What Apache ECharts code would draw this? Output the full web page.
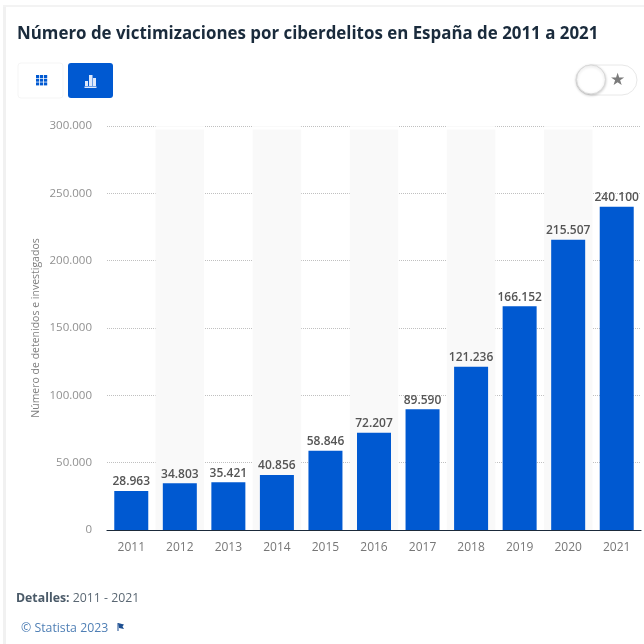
<!DOCTYPE html>
<html><head><meta charset="utf-8">
<style>html,body{margin:0;padding:0;background:#fff}#c{width:644px;height:644px}</style>
<script src="https://cdn.jsdelivr.net/npm/echarts@6/dist/echarts.min.js"></script>
</head><body><div id="c"></div>
<script>
const categories=['2011','2012','2013','2014','2015','2016','2017','2018','2019','2020','2021'];
const values=[28963,34803,35421,40856,58846,72207,89590,121236,166152,215507,240100];
const yTicks=[0,50000,100000,150000,200000,250000,300000];
const titleText='Número de victimizaciones por ciberdelitos en España de 2011 a 2021';
const yName='Número de detenidos e investigados';
const fmt=v=>String(v).replace(/\B(?=(\d{3})+$)/g,'.');
const F='"Open Sans"';
const chart=echarts.init(document.getElementById('c'),null,{renderer:'canvas'});
const blue='#0059d1';
const rects=(list,fill)=>list.map(r=>({type:'rect',shape:{x:r[0],y:r[1],width:r[2],height:r[3]},style:{fill},silent:true}));
const gridCells=[];for(let i=0;i<3;i++)for(let j=0;j<3;j++)gridCells.push([36+i*4,75+j*3.7,3.2,3]);
chart.setOption({
 animation:false,
 backgroundColor:'#fff',
 title:{text:titleText,left:17,top:26,padding:0,textStyle:{fontFamily:F,fontSize:16.9,fontWeight:700,color:'#1a2b3c'}},
 grid:{left:107,right:3,top:126,bottom:114,containLabel:false},
 xAxis:{type:'category',data:categories,boundaryGap:true,
  axisLine:{lineStyle:{color:'#1b2a3a',width:1.2}},axisTick:{show:false},
  axisLabel:{fontFamily:F,fontSize:12,color:'#777',margin:12,letterSpacing:0.2},
  splitArea:{show:true,areaStyle:{color:['rgba(255,255,255,0)','#f9f9f9']}},splitLine:{show:false}},
 yAxis:{type:'value',min:0,max:yTicks[yTicks.length-1],interval:50000,
  name:yName,nameLocation:'middle',nameGap:65,nameRotate:90,nameMoveOverlap:false,
  nameTextStyle:{fontFamily:F,fontSize:10.5,color:'#808080'},
  axisLine:{show:false},axisTick:{show:false},
  axisLabel:{fontFamily:F,fontSize:11.5,color:'#909090',margin:15,formatter:v=>fmt(v)},
  splitLine:{lineStyle:{type:'dotted',color:'#c0c0c0',width:1}}},
 series:[{type:'bar',data:values,barWidth:34,itemStyle:{color:blue},z:3,
  label:{show:true,position:'top',distance:3,fontFamily:F,fontSize:12,fontWeight:600,color:'#555',letterSpacing:0.6,formatter:p=>fmt(p.value)}}],
 graphic:[
  {type:'rect',z:-1,shape:{x:3,y:6,width:3,height:638},style:{fill:'#f1f1f1'},silent:true},
  {type:'rect',z:-1,shape:{x:3,y:5,width:641,height:2},style:{fill:'#f3f3f3'},silent:true},
  {type:'rect',z:1,shape:{x:107,y:127,width:534,height:2.5},style:{fill:'#fff'},silent:true},
  {type:'rect',shape:{x:18,y:63,width:45,height:35,r:3},style:{fill:'#fff',stroke:'#f5f5f5',lineWidth:1},silent:true},
  {type:'rect',shape:{x:68,y:63,width:45,height:35,r:3},style:{fill:blue},silent:true},
  ...rects(gridCells,blue),
  ...rects([[85,81,3,5],[89,75,3.5,11],[93,78,3,8]],'#dfe9fb'),
  {type:'rect',shape:{x:84.5,y:86.5,width:12,height:1.5},style:{fill:'#dfe9fb'},silent:true},
  {type:'rect',shape:{x:576,y:65,width:61,height:30,r:15},style:{fill:'#fff',stroke:'#e8e8e8',lineWidth:1},silent:true},
  {type:'circle',shape:{cx:591,cy:79.5,r:14.5},style:{fill:'#fff',stroke:'#d8d8d8',lineWidth:1,shadowBlur:3,shadowColor:'rgba(0,0,0,.2)',shadowOffsetY:1},silent:true},
  {type:'text',style:{x:617.5,y:80.5,text:'★',fontSize:17,fontFamily:'"DejaVu Sans"',fill:'#7b7b7b',align:'center',verticalAlign:'middle'},silent:true},
  {type:'text',style:{x:16,y:598.5,text:'{b|Detalles:} 2011 - 2021',verticalAlign:'middle',rich:{b:{fontFamily:F,fontSize:12.3,fontWeight:700,fill:'#4a5a68',color:'#4a5a68'}},fontFamily:F,fontSize:12.3,fill:'#5a6773'},silent:true},
  {type:'text',style:{x:21,y:628.5,text:'© Statista 2023',verticalAlign:'middle',fontFamily:F,fontSize:12.3,fill:'#4f7fb5'},silent:true},
  {type:'polygon',shape:{points:[[118,623],[124,624.5],[122.5,626.5],[124,629],[119,628]]},style:{fill:'#1d4f91'},silent:true},
  {type:'rect',shape:{x:117.5,y:623,width:1,height:8},style:{fill:'#1d4f91'},silent:true}
 ]
});
</script></body></html>
